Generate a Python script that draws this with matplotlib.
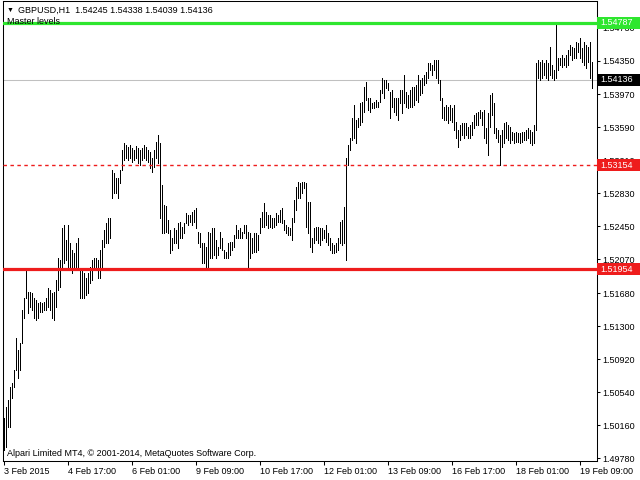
import matplotlib.pyplot as plt
import numpy as np
from matplotlib.patches import Rectangle

plt.rcParams.update({"font.family": ["Liberation Sans", "DejaVu Sans"]})
plt.rcParams.update({"font.size": 6.5})

symbol = "GBPUSD,H1"
last_ohlc = [1.54245, 1.54338, 1.54039, 1.54136]

# hourly highs / lows, 3 Feb 09:00 onwards
highs = [
    1.5025, 1.5037, 1.5045, 1.5060, 1.5065, 1.5080, 1.5117, 1.5103, 1.5111, 1.5149,
    1.5163, 1.51954, 1.5169, 1.5169, 1.5168, 1.5163, 1.5160, 1.5157, 1.5158, 1.5157,
    1.5158, 1.5163, 1.5174, 1.5172, 1.5168, 1.5169, 1.5183, 1.5209, 1.5206, 1.5243,
    1.5246, 1.5229, 1.5246, 1.5226, 1.5218, 1.5214, 1.5226, 1.5231, 1.5195, 1.5195,
    1.5191, 1.5186, 1.5191, 1.5198, 1.5206, 1.5209, 1.5209, 1.5206, 1.5218, 1.5229,
    1.5241, 1.5249, 1.5255, 1.5255, 1.5310, 1.5306, 1.5301, 1.5300, 1.5310,
    1.5333, 1.5341, 1.5338, 1.5336, 1.5338, 1.5335, 1.5333, 1.5337, 1.5335, 1.5333,
    1.5335, 1.5338, 1.5336, 1.5333, 1.5330,
    1.5323, 1.5333, 1.5342, 1.5350, 1.5341, 1.5292, 1.5269, 1.5268, 1.5252, 1.5241,
    1.5232, 1.5243, 1.5241, 1.5249, 1.5250, 1.5244, 1.5249, 1.5260, 1.5258, 1.5258,
    1.5261, 1.5264, 1.5266, 1.5238, 1.5237, 1.5226, 1.5226, 1.5221, 1.5238, 1.5237,
    1.5243, 1.5243, 1.5229, 1.5221, 1.5238, 1.5231, 1.5218, 1.5215, 1.5226, 1.5227,
    1.5227, 1.5235, 1.5246, 1.5241, 1.5243, 1.5238, 1.5246, 1.5246, 1.5238, 1.5237,
    1.5232, 1.5237, 1.5237, 1.5235, 1.5255, 1.5261, 1.5272, 1.5261, 1.5258, 1.5258,
    1.5254, 1.5255, 1.5260, 1.5258, 1.5264, 1.5266, 1.5252, 1.5246, 1.5244, 1.5243,
    1.5254, 1.5275, 1.5290, 1.5296, 1.5295,
    1.5296, 1.5296, 1.5295, 1.5273, 1.5273, 1.5232, 1.5243, 1.5244, 1.5244, 1.5243,
    1.5243, 1.5241, 1.5246, 1.5237, 1.5232, 1.5226, 1.5223, 1.5226, 1.5231, 1.5250,
    1.5252, 1.5267, 1.5324, 1.5338, 1.5347, 1.5370, 1.5384, 1.5367, 1.5369, 1.5387,
    1.5388, 1.5405, 1.5411, 1.5392, 1.5392, 1.5387, 1.5388, 1.5390, 1.5388, 1.5402,
    1.5415, 1.5413, 1.5413, 1.5410, 1.5399, 1.5402, 1.5393, 1.5393, 1.5393, 1.5402,
    1.5402, 1.5419, 1.5399, 1.5396, 1.5402, 1.5405, 1.5405, 1.5407, 1.5419, 1.5413,
    1.5416, 1.5419, 1.5422, 1.5433, 1.5433, 1.5430, 1.5436, 1.5436, 1.5436, 1.5413,
    1.5393, 1.5382, 1.5384, 1.5382, 1.5384,
    1.5381, 1.5384, 1.5365, 1.5356, 1.5361, 1.5364, 1.5364, 1.5364, 1.5359, 1.5361,
    1.5365, 1.5373, 1.5375, 1.5376, 1.5379, 1.5376, 1.5379, 1.5358, 1.5375, 1.5396,
    1.5398, 1.5387, 1.5358, 1.5356, 1.5350, 1.5356, 1.5364, 1.5365, 1.5361, 1.5359,
    1.5353, 1.5352, 1.5353, 1.5352, 1.5352, 1.5353, 1.5353, 1.5356, 1.5358, 1.5356,
    1.5353, 1.5361, 1.5433, 1.5436, 1.5434, 1.5436, 1.5433, 1.5436, 1.5433, 1.5451,
    1.5430, 1.5425, 1.54787, 1.5439, 1.5439, 1.5442, 1.5439, 1.5442, 1.5448, 1.5453,
    1.5451, 1.5450, 1.5457, 1.5456, 1.5461, 1.5450, 1.5457, 1.5453, 1.5451, 1.5457,
    1.54338,
]
lows = [
    1.4988, 1.4991, 1.5014, 1.5014, 1.5048, 1.5060, 1.5080, 1.5071, 1.5080, 1.5111,
    1.5140, 1.5163, 1.5145, 1.5152, 1.5149, 1.5140, 1.5137, 1.5140, 1.5146, 1.5146,
    1.5149, 1.5149, 1.5152, 1.5149, 1.5140, 1.5137, 1.5152, 1.5172, 1.5175, 1.5196,
    1.5203, 1.5206, 1.5198, 1.5198, 1.5191, 1.5198, 1.5198, 1.5195, 1.5162, 1.5163,
    1.5163, 1.5166, 1.5168, 1.5180, 1.5183, 1.5195, 1.5195, 1.5186, 1.5186, 1.5195,
    1.5221, 1.5226, 1.5226, 1.5232, 1.5278, 1.5283, 1.5283, 1.5278, 1.5295,
    1.5310, 1.5321, 1.5323, 1.5321, 1.5324, 1.5319, 1.5321, 1.5323, 1.5318, 1.5315,
    1.5321, 1.5324, 1.5321, 1.5319, 1.5312,
    1.5307, 1.5313, 1.5323, 1.5318, 1.5255, 1.5237, 1.5237, 1.5238, 1.5237, 1.5214,
    1.5218, 1.5226, 1.5226, 1.5220, 1.5232, 1.5231, 1.5237, 1.5249, 1.5246, 1.5250,
    1.5246, 1.5250, 1.5243, 1.5226, 1.5221, 1.5203, 1.5203, 1.5198, 1.5198, 1.5209,
    1.5209, 1.5212, 1.5209, 1.5212, 1.5220, 1.5218, 1.5208, 1.5208, 1.5208, 1.5212,
    1.5218, 1.5221, 1.5232, 1.5231, 1.5231, 1.5232, 1.5237, 1.5232, 1.51954, 1.5209,
    1.5214, 1.5215, 1.5215, 1.5218, 1.5237, 1.5244, 1.5244, 1.5246, 1.5243, 1.5244,
    1.5243, 1.5244, 1.5246, 1.5250, 1.5250, 1.5249, 1.5241, 1.5237, 1.5235, 1.5235,
    1.5229, 1.5250, 1.5264, 1.5278, 1.5278,
    1.5283, 1.5289, 1.5244, 1.5237, 1.5221, 1.5215, 1.5226, 1.5229, 1.5226, 1.5223,
    1.5229, 1.5231, 1.5227, 1.5223, 1.5218, 1.5214, 1.5214, 1.5215, 1.5218, 1.5226,
    1.5223, 1.5226, 1.5206, 1.5315, 1.5333, 1.5344, 1.5346, 1.5341, 1.5359, 1.5361,
    1.5365, 1.5376, 1.5390, 1.5379, 1.5376, 1.5381, 1.5381, 1.5382, 1.5382, 1.5388,
    1.5398, 1.5392, 1.5404, 1.5402, 1.5370, 1.5382, 1.5376, 1.5373, 1.5367, 1.5387,
    1.5375, 1.5387, 1.5382, 1.5381, 1.5382, 1.5382, 1.5384, 1.5390, 1.5388, 1.5396,
    1.5398, 1.5407, 1.5410, 1.5416, 1.5425, 1.5419, 1.5425, 1.5416, 1.5410, 1.5390,
    1.5369, 1.5367, 1.5367, 1.5364, 1.5367,
    1.5365, 1.5356, 1.5346, 1.5336, 1.5344, 1.5350, 1.5347, 1.5350, 1.5347, 1.5346,
    1.5350, 1.5358, 1.5361, 1.5361, 1.5369, 1.5361, 1.5347, 1.5341, 1.5327, 1.5359,
    1.5373, 1.5352, 1.5346, 1.5342, 1.53154, 1.5336, 1.5341, 1.5346, 1.5344, 1.5341,
    1.5344, 1.5341, 1.5342, 1.5342, 1.5341, 1.5342, 1.5344, 1.5344, 1.5346, 1.5341,
    1.5338, 1.5341, 1.5356, 1.5415, 1.5413, 1.5416, 1.5419, 1.5416, 1.5413, 1.5419,
    1.5415, 1.5413, 1.5416, 1.5425, 1.5430, 1.5428, 1.5430, 1.5428, 1.5430, 1.5442,
    1.5436, 1.5438, 1.5439, 1.5445, 1.5438, 1.5434, 1.5430, 1.5427, 1.5434, 1.5415,
    1.54039,
]

time_labels = ["3 Feb 2015", "4 Feb 17:00", "6 Feb 01:00", "9 Feb 09:00",
               "10 Feb 17:00", "12 Feb 01:00", "13 Feb 09:00", "16 Feb 17:00",
               "18 Feb 01:00", "19 Feb 09:00"]
bars_per_label = 32

price_ticks = [1.49780, 1.50160, 1.50540, 1.50920, 1.51300, 1.51680, 1.52070,
               1.52450, 1.52830, 1.53210, 1.53590, 1.53970, 1.54350, 1.54730]

level_top = 1.54787
level_mid = 1.53154
level_low = 1.51954
bid = last_ohlc[3]

green = "#2ee62e"
red = "#ee1c1c"

fig = plt.figure(figsize=(6.4, 4.8), dpi=100)
ax = fig.add_axes([3 / 640, 19 / 480, 594 / 640, 460 / 480])

x = np.arange(len(highs))
ax.vlines(x, lows, highs, color="k", linewidth=0.5, antialiased=False, zorder=3)

ax.axhline(bid, color="#c0c0c0", linewidth=0.75, zorder=1)
ax.axhline(level_top, color=green, linewidth=2.3, zorder=4)
ax.axhline(level_mid, color=red, linewidth=1.0, linestyle=(0, (2.5, 2.5)), zorder=4)
ax.axhline(level_low, color=red, linewidth=2.3, zorder=4)

ax.set_xlim(-0.5, 296.5)
ax.set_ylim(1.4975, 1.5504)

ax.yaxis.tick_right()
ax.set_yticks(price_ticks)
ax.set_yticklabels([f"{p:.5f}" for p in price_ticks])
ax.tick_params(axis="y", length=2.5, width=0.75, pad=1.5, labelsize=6.5)

ax.set_xticks(np.arange(len(time_labels)) * bars_per_label)
ax.set_xticklabels(time_labels, ha="left")
ax.tick_params(axis="x", length=3, width=0.75, pad=1.5, labelsize=6.5)

for s in ax.spines.values():
    s.set_linewidth(0.75)

# price boxes on the right scale
box_h = 0.00138
for val, col in [(level_top, green), (bid, "black"), (level_mid, red), (level_low, red)]:
    ax.add_patch(Rectangle((1.0, val - box_h / 2), 0.08, box_h, facecolor=col,
                           edgecolor="none", transform=ax.get_yaxis_transform(),
                           clip_on=False, zorder=5))
    ax.text(1.006, val, f"{val:.5f}", color="white", va="center", ha="left",
            fontsize=6.5, transform=ax.get_yaxis_transform(), clip_on=False, zorder=6)

header = f"{symbol}  " + " ".join(f"{v:.5f}" for v in last_ohlc)
fig.text(7 / 640, 1 - 10 / 480, "\u25bc", fontsize=5, va="center", ha="left")
fig.text(18 / 640, 1 - 10 / 480, header, va="center", ha="left")
fig.text(7 / 640, 1 - 22 / 480, "Master levels", va="center", ha="left", zorder=0)
fig.text(7 / 640, 1 - 453 / 480,
         "Alpari Limited MT4, \u00a9 2001-2014, MetaQuotes Software Corp.",
         va="center", ha="left")

plt.savefig("out.png", dpi=100)
